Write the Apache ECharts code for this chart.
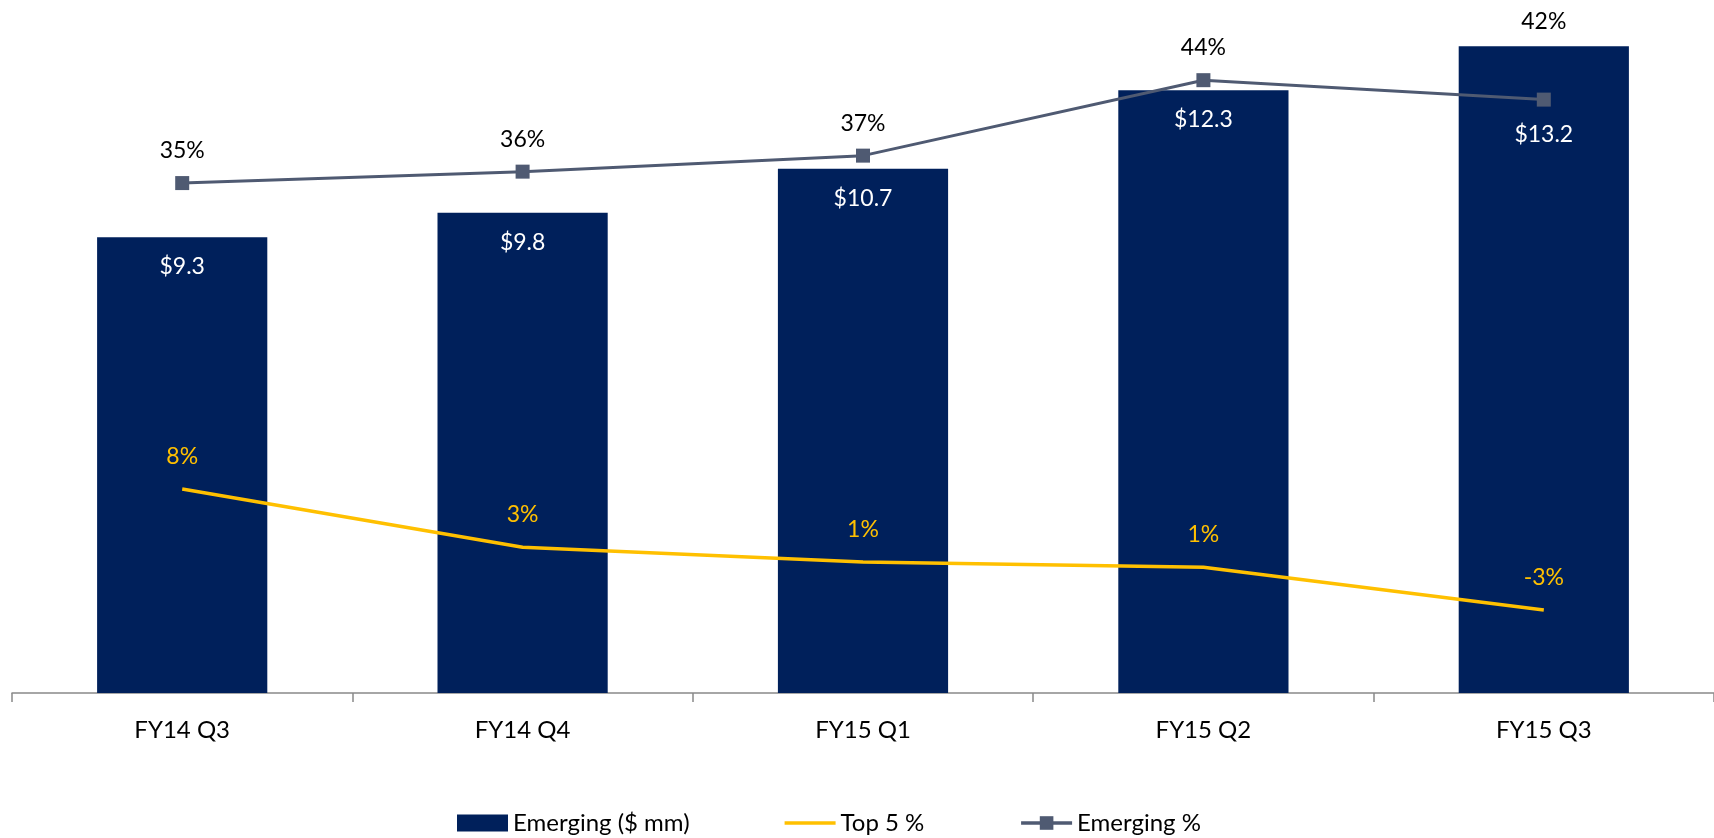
<!DOCTYPE html>
<html>
<head>
<meta charset="utf-8">
<script src="https://cdn.jsdelivr.net/npm/echarts@6/dist/echarts.min.js"></script>
<style>
html,body{margin:0;padding:0;background:#fff;}
#chart{width:1714px;height:838px;}
</style>
</head>
<body>
<div id="chart"></div>
<script>
const categories = ['FY14 Q3', 'FY14 Q4', 'FY15 Q1', 'FY15 Q2', 'FY15 Q3'];
const emergingMM = [9.3, 9.8, 10.7, 12.3, 13.2];
const top5Pct = [7.85, 2.75, 1.45, 1.0, -2.75];
const emergingPct = [34.6, 35.6, 37.0, 43.6, 41.9];

const FONT = 'Lato, "Open Sans", sans-serif';
const chart = echarts.init(document.getElementById('chart'));

const barData = emergingMM.map((v, i) => i === 4 ? {value: v, label: {distance: 77}} : v);
const empData = emergingPct.map((v, i) => i === 4 ? {value: v, label: {distance: 60}} : v);

chart.setOption({
  animation: false,
  backgroundColor: '#ffffff',
  textStyle: {fontFamily: FONT},
  grid: {left: 12, top: 7, width: 1705, height: 686, containLabel: false},
  legend: {
    left: 452, top: 806,
    itemWidth: 51, itemHeight: 17, itemGap: 95,
    textStyle: {fontFamily: FONT, fontSize: 24, color: '#000'},
    data: [
      {name: 'Emerging ($ mm)', icon: 'rect'},
      {name: 'Top 5 %', icon: 'path://M0,0 L51,0 L51,3.5 L0,3.5 Z'},
      {name: 'Emerging %', lineStyle: {width: 3.5}}
    ]
  },
  xAxis: {
    type: 'category',
    data: categories,
    axisLine: {lineStyle: {color: '#898989', width: 1.5}},
    axisTick: {show: true, length: 9, lineStyle: {color: '#898989', width: 1.5}},
    axisLabel: {color: '#000', fontSize: 24, margin: 25, fontFamily: FONT}
  },
  yAxis: [
    {type: 'value', min: 0, max: 14, show: false, splitLine: {show: false}},
    {type: 'value', min: -10, max: 50, show: false, splitLine: {show: false}}
  ],
  series: [
    {
      name: 'Emerging ($ mm)',
      type: 'bar',
      data: barData,
      barWidth: '50%',
      itemStyle: {color: '#00205b'},
      label: {
        show: true, position: 'insideTop', distance: 18,
        color: '#fff', fontSize: 23, fontFamily: FONT,
        formatter: p => '$' + p.value.toFixed(1)
      }
    },
    {
      name: 'Top 5 %',
      type: 'line',
      yAxisIndex: 1,
      data: top5Pct,
      symbol: 'circle',
      symbolSize: 0.1,
      showSymbol: true,
      lineStyle: {color: '#ffc000', width: 3.5},
      itemStyle: {color: '#ffc000'},
      label: {
        show: true, position: 'top', distance: 21,
        color: '#ffc000', fontSize: 23, fontFamily: FONT,
        formatter: p => Math.round(p.value) + '%'
      },
      z: 3
    },
    {
      name: 'Emerging %',
      type: 'line',
      yAxisIndex: 1,
      data: empData,
      symbol: 'rect',
      symbolSize: 14,
      lineStyle: {color: '#4f5a72', width: 3},
      itemStyle: {color: '#4f5a72'},
      label: {
        show: true, position: 'top', distance: 14,
        color: '#000', fontSize: 23, fontFamily: FONT,
        formatter: p => Math.round(p.value) + '%'
      },
      z: 4
    }
  ]
});
</script>
</body>
</html>
